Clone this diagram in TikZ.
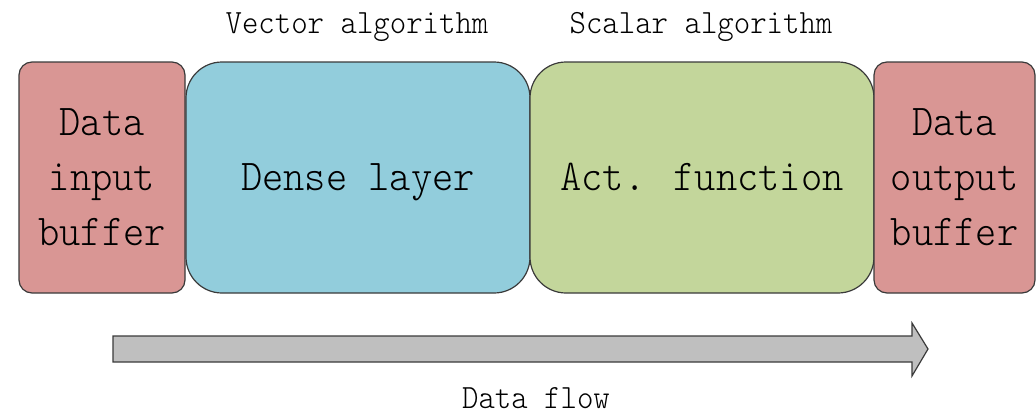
\documentclass[tikz,border=0pt]{standalone}
\usepackage{fontspec}
\newfontfamily\diagfont[FakeStretch=0.92]{Latin Modern Mono Light}
\definecolor{bufred}{HTML}{D99694}
\definecolor{vecblue}{HTML}{92CDDC}
\definecolor{scalgreen}{HTML}{C3D69B}
\definecolor{flowgray}{HTML}{BFBFBF}
\definecolor{edge}{HTML}{3A3A3A}
\tikzset{
  block/.style={draw=edge, line width=1.2pt, minimum height=231pt, inner sep=0pt,
    align=center, font=\diagfont\fontsize{44}{55}\selectfont},
  buffer/.style={block, fill=bufred, rounded corners=13pt},
  stage/.style={block, rounded corners=36pt, minimum width=344pt,
    text height=26pt, text depth=0pt},
  caption/.style={font=\diagfont\fontsize{34}{40}\selectfont, inner sep=0pt},
}
\begin{document}
\begin{tikzpicture}[x=1pt, y=-1pt]
  \useasboundingbox (0,0) rectangle (1036,415);
  % processing stages
  \node[stage, fill=vecblue]   (dense) at (358,177.5) {Dense layer};
  \node[stage, fill=scalgreen] (act)   at (702,177.5) {Act. function};
  % buffers on both ends
  \node[buffer, minimum width=166pt] (inbuf)  at (102,177.5)   {Data\\input\\buffer};
  \node[buffer, minimum width=161pt] (outbuf) at (954.5,177.5) {Data\\output\\buffer};
  % stage captions
  \node[caption] (veccap) at (357,27) {Vector algorithm};
  \node[caption] (scalcap) at (701,27) {Scalar algorithm};
  % data flow arrow
  \coordinate (flowtip) at (928,349);
  \draw[draw=edge, line width=1.2pt, fill=flowgray]
    (113,336) -- (912,336) -- (912,323) -- (flowtip) -- (912,376) -- (912,362)
    -- (113,362) -- cycle;
  \node[caption] (flowcap) at (536,398) {Data flow};
\end{tikzpicture}
\end{document}
